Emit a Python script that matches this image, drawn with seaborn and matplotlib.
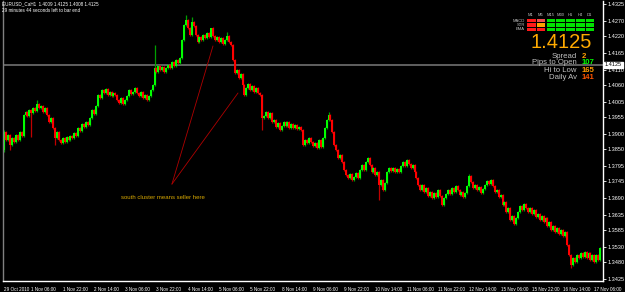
import numpy as np
import pandas as pd
import matplotlib
matplotlib.use("Agg")
import matplotlib.pyplot as plt
from matplotlib.patches import Rectangle
import seaborn as sns

# ==============================
# DATA (EURUSD H1)
# ==============================

first_open = 1.3848

closes = [
    1.3906, 1.3880, 1.3897, 1.3864, 1.3887, 1.3874, 1.3897, 1.3880, 1.3906, 1.3893,
    1.3962, 1.3972, 1.3959, 1.3978, 1.3968, 1.3985, 1.3975, 1.3998, 1.3985, 1.3991,
    1.3972, 1.3985, 1.3962, 1.3939, 1.3952, 1.3919, 1.3887, 1.3906, 1.3880, 1.3870,
    1.3887, 1.3874, 1.3890, 1.3880, 1.3893, 1.3887, 1.3903, 1.3893, 1.3919, 1.3910,
    1.3933, 1.3923, 1.3939, 1.3929, 1.3952, 1.3978, 1.3965, 1.3991, 1.4027, 1.4018,
    1.4044, 1.4034, 1.4047, 1.4027, 1.4037, 1.4024, 1.4034, 1.4027, 1.4011, 1.4001,
    1.4018, 1.3998, 1.4011, 1.4024, 1.4044, 1.4031, 1.4037, 1.4050, 1.4034, 1.4024,
    1.4037, 1.4018, 1.4027, 1.4011, 1.4024, 1.4044, 1.4060, 1.4116, 1.4103, 1.4122,
    1.4109, 1.4119, 1.4103, 1.4116, 1.4125, 1.4116, 1.4135, 1.4122, 1.4142, 1.4132,
    1.4148, 1.4207, 1.4256, 1.4273, 1.4246, 1.4224, 1.4266, 1.4253, 1.4224, 1.4201,
    1.4217, 1.4207, 1.4224, 1.4214, 1.4230, 1.4217, 1.4246, 1.4220, 1.4207, 1.4217,
    1.4201, 1.4214, 1.4194, 1.4207, 1.4220, 1.4201, 1.4191, 1.4142, 1.4099, 1.4109,
    1.4083, 1.4096, 1.4060, 1.4027, 1.4050, 1.4063, 1.4044, 1.4057, 1.4037, 1.4050,
    1.4034, 1.4027, 1.3952, 1.3959, 1.3972, 1.3952, 1.3968, 1.3939, 1.3946, 1.3923,
    1.3936, 1.3913, 1.3926, 1.3939, 1.3926, 1.3939, 1.3919, 1.3933, 1.3919, 1.3929,
    1.3916, 1.3923, 1.3913, 1.3864, 1.3880, 1.3870, 1.3887, 1.3874, 1.3861, 1.3870,
    1.3854, 1.3880, 1.3857, 1.3887, 1.3919, 1.3946, 1.3962, 1.3946, 1.3906, 1.3864,
    1.3848, 1.3821, 1.3831, 1.3808, 1.3782, 1.3766, 1.3756, 1.3769, 1.3749, 1.3759,
    1.3772, 1.3756, 1.3782, 1.3798, 1.3782, 1.3808, 1.3821, 1.3798, 1.3776, 1.3789,
    1.3766, 1.3776, 1.3733, 1.3749, 1.3717, 1.3740, 1.3776, 1.3789, 1.3779, 1.3789,
    1.3776, 1.3785, 1.3776, 1.3795, 1.3808, 1.3795, 1.3815, 1.3802, 1.3789, 1.3798,
    1.3776, 1.3756, 1.3733, 1.3717, 1.3733, 1.3710, 1.3723, 1.3697, 1.3710, 1.3691,
    1.3707, 1.3694, 1.3717, 1.3697, 1.3668, 1.3691, 1.3704, 1.3717, 1.3704, 1.3723,
    1.3710, 1.3730, 1.3717, 1.3700, 1.3710, 1.3694, 1.3707, 1.3730, 1.3762, 1.3743,
    1.3723, 1.3733, 1.3717, 1.3727, 1.3707, 1.3720, 1.3733, 1.3746, 1.3736, 1.3749,
    1.3730, 1.3710, 1.3717, 1.3694, 1.3700, 1.3668, 1.3677, 1.3645, 1.3658, 1.3619,
    1.3632, 1.3606, 1.3625, 1.3645, 1.3664, 1.3651, 1.3671, 1.3658, 1.3645, 1.3658,
    1.3638, 1.3651, 1.3628, 1.3638, 1.3619, 1.3632, 1.3612, 1.3625, 1.3599, 1.3612,
    1.3586, 1.3599, 1.3579, 1.3592, 1.3573, 1.3586, 1.3566, 1.3579, 1.3537, 1.3504,
    1.3471, 1.3494, 1.3481, 1.3504, 1.3494, 1.3510, 1.3498, 1.3514, 1.3494, 1.3510,
    1.3488, 1.3504, 1.3481, 1.3504, 1.3488, 1.3527,
]

# bars with a visibly long shadow
spike_highs = {0: 1.3913, 17: 1.4011, 77: 1.4191, 93: 1.4289, 96: 1.4282,
               106: 1.4246, 114: 1.4233, 166: 1.3972, 238: 1.3769}
spike_lows = {0: 1.3841, 3: 1.3848, 14: 1.3890, 26: 1.3864, 132: 1.3913,
              192: 1.3684, 290: 1.3462}

first_date = "29 Oct 2010"
date_labels = ["1 Nov 06:00", "1 Nov 22:00", "2 Nov 14:00", "3 Nov 06:00", "3 Nov 22:00",
               "4 Nov 14:00", "5 Nov 06:00", "5 Nov 22:00", "8 Nov 14:00", "9 Nov 06:00",
               "9 Nov 22:00", "10 Nov 14:00", "11 Nov 06:00", "11 Nov 22:00", "12 Nov 14:00",
               "15 Nov 06:00", "15 Nov 22:00", "16 Nov 14:00", "17 Nov 06:00"]

price_labels = ["1.4325", "1.4270", "1.4220", "1.4165", "1.4110", "1.4060", "1.4005",
                "1.3955", "1.3900", "1.3850", "1.3795", "1.3745", "1.3690", "1.3635",
                "1.3585", "1.3530", "1.3480", "1.3425"]

bid = 1.4125
header = "EURUSD_CaH1  1.4009 1.4125 1.4008 1.4125"
timer = "29 minutes 44 seconds left to bar end"

# note drawn on the chart
note_text = "south cluster means seller here"
note_pos = (81.3, 1.3691)
note_from = (85.9, 1.3736)
note_to = [(106.9, 1.4188), (119.7, 1.4034)]

# trend panel
tf_names = ["M1", "M5", "M15", "M30", "H1", "H4", "D1"]
ind_names = ["MACD", "STR", "EMA"]
ind_state = [["dn", "dn2", "up", "up", "up", "up", "up"],
             ["dn", "mid", "up", "up", "up", "up", "up"],
             ["dn", "dn", "up", "up", "up", "up", "up"]]
stat_names = ["Spread", "Pips to Open", "Hi to Low", "Daily Av"]
stat_values = ["2", "107", "165", "141"]

# ==============================
# STYLE
# ==============================

sns.set_theme(style="dark", rc={"axes.facecolor": "black", "figure.facecolor": "black",
                                "axes.grid": False})
plt.rcParams["font.family"] = ["Liberation Sans", "DejaVu Sans"]

W, H = 625, 292
fig = plt.figure(figsize=(W / 100, H / 100), dpi=100)
ax = fig.add_axes([3 / W, 11 / H, 600 / W, 280 / H])
ax.set_facecolor("black")

def fx(px):
    return px / W

def fy(py):
    return 1 - py / H

# ==============================
# CANDLES
# ==============================

df = pd.DataFrame({"close": closes})
df["open"] = df["close"].shift(1).fillna(first_open)
df["bar"] = np.arange(len(df))
df["top"] = df[["open", "close"]].max(axis=1)
df["bot"] = df[["open", "close"]].min(axis=1)
df["high"] = df["top"] + 0.0003
df["low"] = df["bot"] - 0.0003
for k, v in spike_highs.items():
    df.loc[k, "high"] = v
for k, v in spike_lows.items():
    df.loc[k, "low"] = v
df["up"] = df["close"] >= df["open"]

wick_col = np.where(df["up"], "#00A000", "#C00000")
body_col = np.where(df["up"], "#00FF00", "#FF0000")
ax.vlines(df["bar"], df["low"], df["high"], colors=wick_col, lw=0.9)
ax.vlines(df["bar"], df["bot"], df["top"] + 0.00005, colors=body_col, lw=1.45)

# bid line
ax.axhline(bid, color="#707070", lw=1.2, zorder=0)

# note
for end in note_to:
    ax.plot([note_from[0], end[0]], [note_from[1], end[1]], color="#B00000", lw=0.6)
ax.text(note_pos[0], note_pos[1], note_text, color="#D8A800", fontsize=4.3,
        ha="center", va="center")

# ==============================
# AXES
# ==============================

ax.set_xlim(-0.51, 306.4)
ax.set_ylim(1.3419, 1.4335)

ticks_y = [float(s) for s in price_labels]
ax.yaxis.tick_right()
ax.set_yticks(ticks_y)
ax.set_yticklabels(price_labels)
ticks_x = [0] + [14 + 16 * k for k in range(len(date_labels))]
ax.set_xticks(ticks_x)
ax.set_xticklabels([first_date] + date_labels, ha="left")
ax.tick_params(axis="both", colors="white", labelsize=4, length=2, width=0.6, pad=1.5)
ax.tick_params(axis="x", labelsize=3.3, pad=2)

ax.spines["top"].set_visible(False)
ax.spines["right"].set_color("white")
ax.spines["bottom"].set_color("white")
ax.spines["left"].set_color("#808080")
for s in ["right", "bottom", "left"]:
    ax.spines[s].set_linewidth(1.0)

# price box for bid
fig.text(fx(605), fy(65), f"{bid:.4f}", color="black", fontsize=4, va="center", ha="left",
         bbox=dict(boxstyle="square,pad=0.15", fc="white", ec="white"))

# header text
fig.text(fx(2), fy(4), header, color="white", fontsize=3.3, va="center", ha="left")
fig.text(fx(2), fy(10.5), timer, color="white", fontsize=3.3, va="center", ha="left")

# ==============================
# TREND PANEL
# ==============================

state_colors = {"dn": "#FF1A1A", "dn2": "#F05050", "mid": "#FFA000", "up": "#00E000"}
for j, name in enumerate(tf_names):
    fig.text(fx(531 + 9.8 * j), fy(15.5), name, color="#C0C0C0", fontsize=3,
             ha="center", va="center")
for r, name in enumerate(ind_names):
    fig.text(fx(525), fy(20.5 + 4.5 * r), name, color="#C0C0C0", fontsize=3,
             ha="right", va="center")
    for j, st in enumerate(ind_state[r]):
        fig.patches.append(Rectangle((fx(527 + 9.8 * j), fy(22 + 4.5 * r)),
                                     8.6 / W, 3.0 / H, transform=fig.transFigure,
                                     fc=state_colors[st], ec="none"))

fig.text(fx(561), fy(42), f"{bid:.4f}", color="#FFAA00", fontsize=14.5,
         ha="center", va="center")

value_colors = ["#FFA000", "#00FF00", "#FF9900", "#FF5500"]
for r, (name, val) in enumerate(zip(stat_names, stat_values)):
    y = 56 + 7 * r
    fig.text(fx(577), fy(y), name, color="#C0C0C0", fontsize=5.6, ha="right", va="center")
    fig.text(fx(582), fy(y), val, color=value_colors[r], fontsize=5.6, ha="left",
             va="center", weight="bold")

fig.savefig("out.png", dpi=100, facecolor="black")
